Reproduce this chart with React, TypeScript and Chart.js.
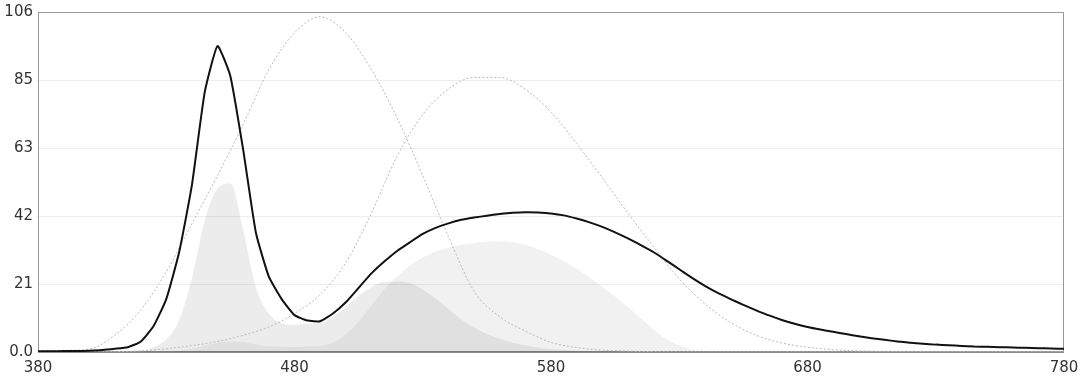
import React, { useEffect, useRef } from "react";
import { Chart, registerables } from "chart.js";

Chart.register(...registerables);

const WL5 = [
  380, 385, 390, 395, 400, 405, 410, 415, 420, 425,
  430, 435, 440, 445, 450, 455, 460, 465, 470, 475,
  480, 485, 490, 495, 500, 505, 510, 515, 520, 525,
  530, 535, 540, 545, 550, 555, 560, 565, 570, 575,
  580, 585, 590, 595, 600, 605, 610, 615, 620, 625,
  630, 635, 640, 645, 650, 655, 660, 665, 670, 675,
  680, 685, 690, 695, 700, 705, 710, 715, 720, 725,
  730, 735, 740, 745, 750, 755, 760, 765, 770, 775,
  780,
];

const SPECTRUM = [
  0.2, 0.2, 0.3, 0.3, 0.4, 0.6, 1.0, 1.5, 3.2, 8,
  16.5, 31, 52, 81, 95.4, 86, 63, 37, 23.5, 16.5,
  11.5, 9.8, 9.6, 12, 15.5, 20, 24.5, 28.2, 31.5, 34.2,
  36.8, 38.7, 40.1, 41.2, 41.9, 42.5, 43, 43.4, 43.6, 43.5,
  43.2, 42.6, 41.6, 40.4, 39, 37.3, 35.4, 33.3, 31.1, 28.5,
  25.8, 23.1, 20.6, 18.4, 16.5, 14.7, 13, 11.4, 10, 8.8,
  7.8, 7, 6.3, 5.6, 4.9, 4.3, 3.8, 3.3, 2.9, 2.6,
  2.3, 2.1, 1.9, 1.7, 1.6, 1.5, 1.4, 1.3, 1.2, 1.1,
  1.0,
];

const FILL_MELANOPIC = [
  0, 0, 0, 0, 0, 0, 0.05, 0.1, 0.3, 1.5,
  4, 10, 23, 41, 51, 52.5, 38, 20, 12, 9,
  8.5, 8.8, 9.2, 11, 14, 17.5, 20.3, 21.8, 22, 21.5,
  19.5, 16.7, 13.4, 10.2, 7.6, 5.6, 4.1, 3, 2.1, 1.4,
  0.9, 0.6, 0.4, 0.3, 0.2, 0.1, 0, 0, 0, 0,
  0, 0, 0, 0, 0, 0, 0, 0, 0, 0,
  0, 0, 0, 0, 0, 0, 0, 0, 0, 0,
  0, 0, 0, 0, 0, 0, 0, 0, 0, 0,
  0,
];

const FILL_PHOTOPIC = [
  0, 0, 0, 0, 0, 0, 0, 0, 0, 0.05,
  0.15, 0.4, 1, 2, 3, 3.3, 3.1, 2.3, 1.8, 1.7,
  1.6, 1.7, 2, 3, 5.5, 9.5, 14.5, 19.5, 23.5, 27,
  29.5, 31.3, 32.5, 33.4, 34, 34.4, 34.5, 34.2, 33.4, 32,
  30.3, 28.3, 26, 23.3, 20.3, 17.3, 14, 10.5, 7, 4,
  2, 0.8, 0.3, 0.1, 0, 0, 0, 0, 0, 0,
  0, 0, 0, 0, 0, 0, 0, 0, 0, 0,
  0, 0, 0, 0, 0, 0, 0, 0, 0, 0,
  0,
];

const WL10 = [
  380, 390, 400, 410, 420, 430, 440, 450, 460, 470,
  480, 490, 500, 510, 520, 530, 540, 550, 560, 570,
  580, 590, 600, 610, 620, 630, 640, 650, 660, 670,
  680, 690, 700, 710, 720, 730, 740, 750, 760, 770,
  780,
];

const MELANOPIC = [
  0.3, 0.5, 0.9, 5.3, 13, 25, 40, 55, 71, 88,
  99.5, 104.5, 99.5, 88, 73, 55, 36, 19, 11, 6.5,
  3, 1.4, 0.6, 0.3, 0.1, 0, 0, 0, 0, 0,
  0, 0, 0, 0, 0, 0, 0, 0, 0, 0,
  0,
];

const PHOTOPIC = [
  0, 0, 0.05, 0.1, 0.35, 1, 2, 3.3, 5.2, 7.8,
  12, 17.9, 27.8, 43.3, 61, 74, 82, 85.6, 85.6, 81.9,
  74.8, 65, 54.3, 43.3, 32.8, 22.8, 15, 9.2, 5.2, 2.8,
  1.5, 0.7, 0.35, 0.2, 0.1, 0.05, 0, 0, 0, 0,
  0,
];

const X_TICKS = [380, 480, 580, 680, 780];
const Y_TICKS = [0, 21.2, 42.4, 63.6, 84.8, 106];
const Y_LABELS = ["0.0", "21", "42", "63", "85", "106"];

const pts = (xs: number[], ys: number[]) => xs.map((x, i) => ({ x, y: ys[i] }));

const framePlugin = {
  id: "frame",
  beforeDatasetsDraw(chart: any) {
    const { ctx, chartArea: a } = chart;
    ctx.save();
    ctx.strokeStyle = "#9a9a9a";
    ctx.lineWidth = 1;
    ctx.strokeRect(a.left + 0.5, a.top + 0.5, a.right - a.left - 1, a.bottom - a.top);
    ctx.strokeStyle = "#8c8c8c";
    ctx.lineWidth = 2;
    ctx.beginPath();
    ctx.moveTo(a.left, a.bottom);
    ctx.lineTo(a.right, a.bottom);
    ctx.stroke();
    ctx.restore();
  },
};

export default function App() {
  const ref = useRef<HTMLCanvasElement | null>(null);

  useEffect(() => {
    if (!ref.current) return;
    const font = { family: '"DejaVu Sans", sans-serif', size: 15 };
    const chart = new Chart(ref.current, {
      type: "line",
      data: {
        datasets: [
          {
            label: "Spectrum",
            data: pts(WL5, SPECTRUM),
            borderColor: "#111111",
            borderWidth: 2,
            pointRadius: 0,
            tension: 0.15,
            fill: false,
            order: 0,
          },
          {
            label: "Melanopic",
            data: pts(WL10, MELANOPIC),
            borderColor: "#b8b8b8",
            borderWidth: 1,
            borderDash: [2, 2],
            pointRadius: 0,
            cubicInterpolationMode: "monotone",
            fill: false,
            order: 1,
          },
          {
            label: "Photopic",
            data: pts(WL10, PHOTOPIC),
            borderColor: "#b8b8b8",
            borderWidth: 1,
            borderDash: [2, 2],
            pointRadius: 0,
            cubicInterpolationMode: "monotone",
            fill: false,
            order: 1,
          },
          {
            label: "Melanopic weighted",
            data: pts(WL5, FILL_MELANOPIC),
            borderWidth: 0,
            borderColor: "rgba(0,0,0,0)",
            backgroundColor: "rgba(0,0,0,0.075)",
            pointRadius: 0,
            cubicInterpolationMode: "monotone",
            fill: "origin",
            order: 2,
          },
          {
            label: "Photopic weighted",
            data: pts(WL5, FILL_PHOTOPIC),
            borderWidth: 0,
            borderColor: "rgba(0,0,0,0)",
            backgroundColor: "rgba(0,0,0,0.055)",
            pointRadius: 0,
            cubicInterpolationMode: "monotone",
            fill: "origin",
            order: 2,
          },
        ],
      },
      options: {
        animation: false,
        responsive: false,
        maintainAspectRatio: false,
        layout: { padding: { top: 12, right: 16, left: 0, bottom: 0 } },
        plugins: { legend: { display: false }, tooltip: { enabled: false } },
        scales: {
          x: {
            type: "linear",
            min: 380,
            max: 780,
            afterBuildTicks: (s: any) => {
              s.ticks = X_TICKS.map((v) => ({ value: v }));
            },
            afterFit: (s: any) => {
              s.height = 32;
              s.paddingLeft = 0;
              s.paddingRight = 0;
            },
            grid: { display: false, drawTicks: false },
            border: { display: false },
            ticks: {
              color: "#333333",
              font,
              padding: 7,
              maxRotation: 0,
              autoSkip: false,
              callback: (v: any) => String(v),
            },
          },
          y: {
            type: "linear",
            min: 0,
            max: 106,
            afterBuildTicks: (s: any) => {
              s.ticks = Y_TICKS.map((v) => ({ value: v }));
            },
            afterFit: (s: any) => {
              s.width = 38;
              s.paddingTop = 0;
              s.paddingBottom = 0;
            },
            grid: { color: "#ededed", drawTicks: false, lineWidth: 1 },
            border: { display: false },
            ticks: {
              color: "#333333",
              font,
              padding: 5,
              autoSkip: false,
              callback: (_v: any, i: number) => Y_LABELS[i],
            },
          },
        },
      },
      plugins: [framePlugin],
    });
    return () => chart.destroy();
  }, []);

  return (
    <div style={{ position: "absolute", left: 0, top: 0, width: 1080, height: 384, background: "#fff" }}>
      <canvas ref={ref} width={1080} height={384} style={{ width: 1080, height: 384 }} />
    </div>
  );
}
